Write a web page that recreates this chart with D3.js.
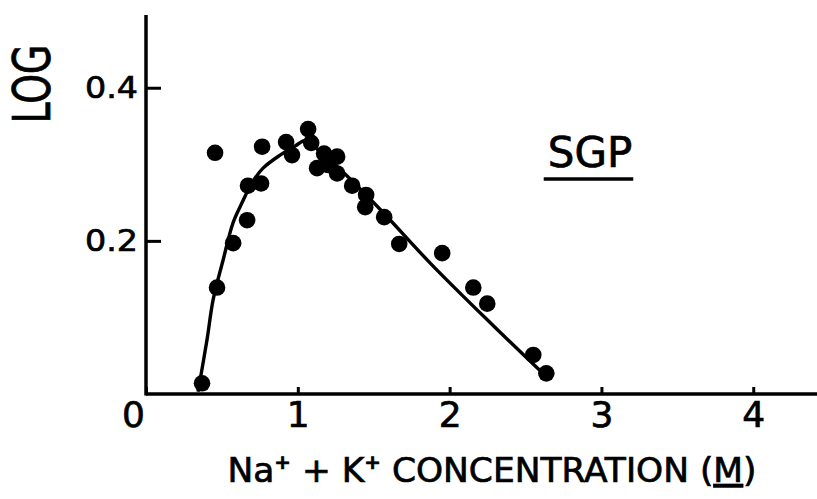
<!DOCTYPE html>
<html>
<head>
<meta charset="utf-8">
<script src="https://cdn.jsdelivr.net/npm/d3@7"></script>
<style>
  html, body { margin: 0; padding: 0; background: #fff; }
  svg { display: block; }
  text { font-family: "DejaVu Sans", sans-serif; fill: #000; stroke: #000; stroke-width: 0.7px; }
</style>
</head>
<body>
<svg id="chart" width="817" height="499"></svg>
<script>
// ---- data ----
const pointX = [0.369, 0.455, 0.468, 0.574, 0.666, 0.672, 0.758, 0.765, 0.923, 0.962,
                1.068, 1.088, 1.127, 1.173, 1.259, 1.200, 1.259, 1.358, 1.450, 1.444,
                1.569, 1.668, 1.951, 2.156, 2.248, 2.551, 2.637];
const pointY = [0.014, 0.315, 0.139, 0.197, 0.227, 0.272, 0.275, 0.323, 0.329, 0.312,
                0.346, 0.328, 0.295, 0.314, 0.310, 0.299, 0.288, 0.272, 0.260, 0.244,
                0.231, 0.196, 0.184, 0.139, 0.118, 0.051, 0.027];
const curveX = [0.343, 0.402, 0.442, 0.508, 0.574, 0.633, 0.699, 0.771, 0.883, 0.982,
                1.055, 1.147, 1.259, 1.543, 1.872, 2.268, 2.630];
const curveY = [0.003, 0.071, 0.123, 0.175, 0.224, 0.250, 0.276, 0.295, 0.312, 0.324,
                0.331, 0.316, 0.297, 0.241, 0.171, 0.093, 0.024];
const xTicks = [0, 1, 2, 3, 4];
const xTickLabels = ["0", "1", "2", "3", "4"];
const yTicks = [0.2, 0.4];
const yTickLabels = ["0.2", "0.4"];
const xDomain = [0, 4.42];
const yDomain = [0, 0.495];
const yTitle = "LOG";
const panelLabel = "SGP";

// ---- layout ----
const svg = d3.select("#chart");
const x = d3.scaleLinear().domain(xDomain).range([146, 817]);
const y = d3.scaleLinear().domain(yDomain).range([394, 15]);

// x axis
const xAxis = d3.axisBottom(x)
  .tickValues(xTicks)
  .tickFormat((d, i) => xTickLabels[i])
  .tickSizeInner(-7).tickSizeOuter(0).tickPadding(7);
const gx = svg.append("g").attr("transform", `translate(0,${y(0)})`).call(xAxis);
gx.select(".domain").attr("stroke", "#000").attr("stroke-width", 3.5)
  .attr("d", `M${x(0)},0H${x(xDomain[1])}`);
gx.selectAll(".tick line").attr("stroke", "#000").attr("stroke-width", 3);
gx.selectAll(".tick text").attr("font-size", 36).attr("font-family", "DejaVu Sans")
  .attr("fill", "#000")
  .attr("dx", d => d === 0 ? -13 : 0);

// y axis
const yAxis = d3.axisLeft(y)
  .tickValues(yTicks)
  .tickFormat((d, i) => yTickLabels[i])
  .tickSizeInner(-15).tickSizeOuter(0).tickPadding(8);
const gy = svg.append("g").attr("transform", `translate(${x(0)},0)`).call(yAxis);
gy.select(".domain").attr("stroke", "#000").attr("stroke-width", 3.5)
  .attr("d", `M0,${y(0) + 1.5}V${y(yDomain[1])}`);
gy.selectAll(".tick line").attr("stroke", "#000").attr("stroke-width", 3);
gy.selectAll(".tick text").attr("font-size", 31).attr("font-family", "DejaVu Sans")
  .attr("fill", "#000")
  .attr("textLength", 53).attr("lengthAdjust", "spacingAndGlyphs");

// y title
svg.append("text")
  .attr("transform", `translate(50,84) rotate(-90)`)
  .attr("text-anchor", "middle")
  .attr("font-size", 51)
  .attr("textLength", 79).attr("lengthAdjust", "spacingAndGlyphs")
  .text(yTitle);

// x title
const xt = svg.append("text")
  .attr("x", 492).attr("y", 482)
  .attr("text-anchor", "middle")
  .attr("font-size", 33)
  .attr("textLength", 529).attr("lengthAdjust", "spacingAndGlyphs");
xt.append("tspan").text("Na");
xt.append("tspan").attr("dy", -13).attr("font-size", 19).attr("font-weight", "bold").text("+");
xt.append("tspan").attr("dy", 13).text(" + K");
xt.append("tspan").attr("dy", -13).attr("font-size", 19).attr("font-weight", "bold").text("+");
xt.append("tspan").attr("dy", 13).text(" CONCENTRATION (");
xt.append("tspan").attr("text-decoration", "underline").text("M");
xt.append("tspan").text(")");

// panel label
const lbl = svg.append("text")
  .attr("x", 590).attr("y", 167)
  .attr("text-anchor", "middle")
  .attr("font-size", 42)
  .text(panelLabel);
const bb = lbl.node().getBBox();
svg.append("line")
  .attr("x1", bb.x - 4).attr("x2", bb.x + bb.width + 1)
  .attr("y1", 179).attr("y2", 179)
  .attr("stroke", "#000").attr("stroke-width", 3.5);

// fitted curve
const curveData = curveX.map((v, i) => [v, curveY[i]]);
svg.append("path")
  .datum(curveData)
  .attr("fill", "none")
  .attr("stroke", "#000")
  .attr("stroke-width", 3.4)
  .attr("d", d3.line().x(d => x(d[0])).y(d => y(d[1])).curve(d3.curveCatmullRom.alpha(0.5)));

// points
const pts = pointX.map((v, i) => [v, pointY[i]]);
svg.append("g").selectAll("circle")
  .data(pts).join("circle")
  .attr("cx", d => x(d[0]))
  .attr("cy", d => y(d[1]))
  .attr("r", 8.3)
  .attr("fill", "#000");
</script>
</body>
</html>
